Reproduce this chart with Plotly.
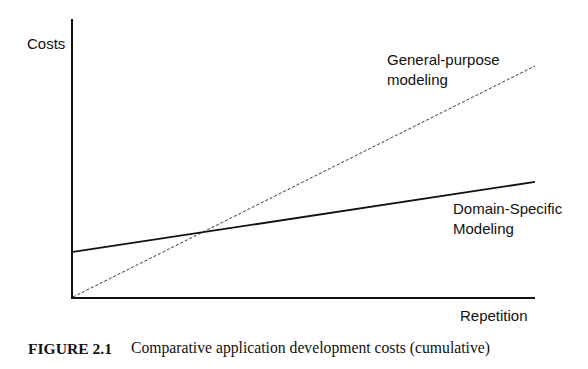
import plotly.graph_objects as go

OFF = 8  # default page body margin
W, H = 588 - 2 * OFF, 369 - 2 * OFF
L, R, T, B = 73, 535, 19, 297  # plot area in page pixels

repetition = [0, 10]
general_purpose = [0, 83.1]
domain_specific = [16.2, 41.4]

fig = go.Figure()
fig.add_trace(go.Scatter(x=repetition, y=general_purpose, mode="lines",
                         line=dict(color="#333333", width=1, dash="3px,2px"),
                         name="General-purpose modeling"))
fig.add_trace(go.Scatter(x=repetition, y=domain_specific, mode="lines",
                         line=dict(color="#111111", width=1.8),
                         name="Domain-Specific Modeling"))

def px(x):
    return (x - L) / (R - L)

def py(y):
    return (B - y) / (B - T)

sans = dict(family="Liberation Sans, Arial, sans-serif", size=15, color="#111111")
serif_b = dict(family="Liberation Serif, Times New Roman, serif", size=15.6, color="#111111")
serif = dict(family="Liberation Serif, Times New Roman, serif", size=15.7, color="#111111")

ann = []
ann.append(dict(text="Costs", x=px(67), y=py(43), xanchor="right", yanchor="middle", font=sans))
ann.append(dict(text="General-purpose<br>modeling", x=px(385), y=py(69), xanchor="left", yanchor="middle", font=sans, align="left"))
ann.append(dict(text="Domain-Specific<br>Modeling", x=px(451), y=py(218), xanchor="left", yanchor="middle", font=sans, align="left"))
ann.append(dict(text="Repetition", x=px(458), y=py(315), xanchor="left", yanchor="middle", font=sans))
ann.append(dict(text="<b>FIGURE 2.1</b>", x=px(26), y=py(348), xanchor="left", yanchor="middle", font=serif_b))
ann.append(dict(text="Comparative application development costs (cumulative)", x=px(129), y=py(348), xanchor="left", yanchor="middle", font=serif))
for a in ann:
    a.update(xref="paper", yref="paper", showarrow=False)

fig.update_layout(
    width=W, height=H,
    margin=dict(l=L - OFF, r=W + OFF - R, t=T - OFF, b=H + OFF - B, pad=0),
    paper_bgcolor="white", plot_bgcolor="white",
    showlegend=False,
    annotations=ann,
    xaxis=dict(range=[0, 10], showgrid=False, zeroline=False, showticklabels=False,
               ticks="", showline=True, linecolor="#111111", linewidth=1.5),
    yaxis=dict(range=[0, 100], showgrid=False, zeroline=False, showticklabels=False,
               ticks="", showline=True, linecolor="#111111", linewidth=1.5),
)

fig.write_html("out.html")
